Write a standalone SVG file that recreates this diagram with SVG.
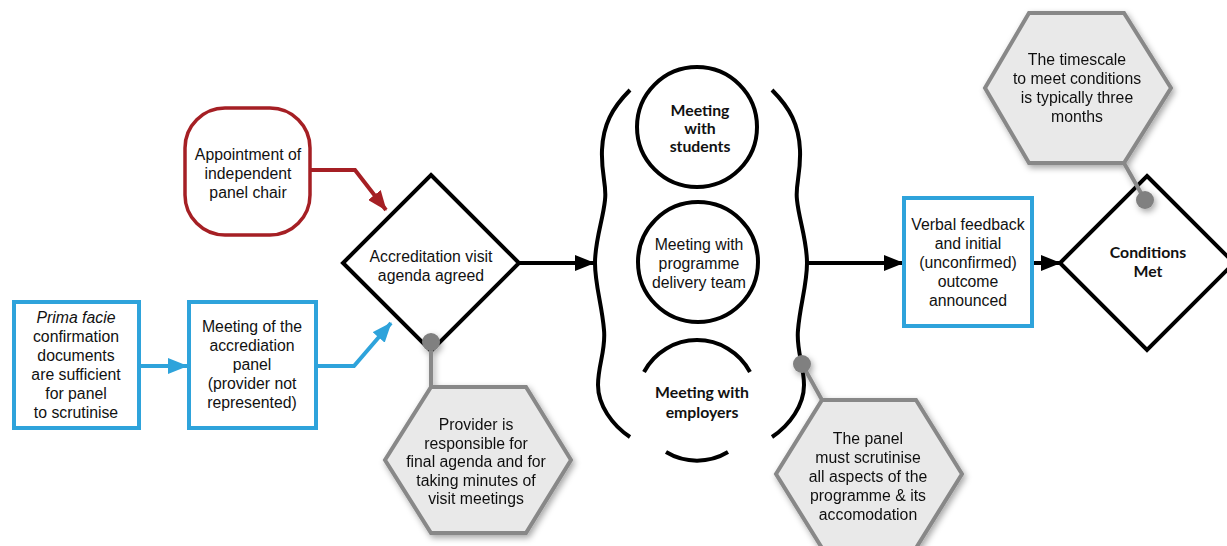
<svg xmlns="http://www.w3.org/2000/svg" width="1227" height="546" viewBox="0 0 1227 546">
<defs>
<style>
text{font-family:"Liberation Sans",Arial,sans-serif;font-size:15.8px;fill:#111;text-anchor:middle}
.b{font-family:Lato,"Open Sans",sans-serif;font-weight:700}
.blue{fill:#fff;stroke:#2ea3db;stroke-width:4}
.red{fill:#fff;stroke:#a51f24;stroke-width:3.5}
.dia{fill:#fff;stroke:#000;stroke-width:4;stroke-linejoin:miter}
.circ{fill:#fff;stroke:#000;stroke-width:4}
.hex{fill:#e9e9e9;stroke:#888;stroke-width:4;stroke-linejoin:miter}
.gl{fill:none;stroke:#888;stroke-width:4}
.dot{fill:#808080}
.k{fill:none;stroke:#000;stroke-width:4}
.bl{fill:none;stroke:#2ea3db;stroke-width:4}
.rd{fill:none;stroke:#a51f24;stroke-width:4}
</style>
<filter id="sh" x="-20%" y="-20%" width="150%" height="150%">
<feDropShadow dx="2" dy="3" stdDeviation="3" flood-color="#000" flood-opacity="0.35"/>
</filter>
<marker id="ak" markerUnits="userSpaceOnUse" markerWidth="20" markerHeight="16" refX="19" refY="8" orient="auto"><path d="M0,0 L20,8 L0,16 z" fill="#000"/></marker>
<marker id="ab" markerUnits="userSpaceOnUse" markerWidth="20" markerHeight="16" refX="19" refY="8" orient="auto"><path d="M0,0 L20,8 L0,16 z" fill="#2ea3db"/></marker>
<marker id="ar" markerUnits="userSpaceOnUse" markerWidth="20" markerHeight="16" refX="19" refY="8" orient="auto"><path d="M0,0 L20,8 L0,16 z" fill="#a51f24"/></marker>
</defs>
<rect width="1227" height="546" fill="#fff"/>

<g id="connectors">
<path class="rd" d="M310,170 L355,170 L386,210" marker-end="url(#ar)"/>
<path class="bl" d="M139,366 L187,366" marker-end="url(#ab)"/>
<path class="bl" d="M316,366 L354,366 L391,323" marker-end="url(#ab)"/>
<path class="k" d="M519,263 L594,263" marker-end="url(#ak)"/>
<path class="k" d="M807,263 L903,263" marker-end="url(#ak)"/>
<path class="k" d="M1032,263 L1060,263" marker-end="url(#ak)"/>
</g>

<g id="prima-facie">
<rect class="blue" x="14" y="302" width="125" height="126"/>
<text x="76" y="323" font-style="italic">Prima facie</text>
<text x="76" y="342">confirmation</text>
<text x="76" y="361">documents</text>
<text x="76" y="380">are sufficient</text>
<text x="76" y="399">for panel</text>
<text x="76" y="418">to scrutinise</text>
</g>

<g id="meeting-panel">
<rect class="blue" x="189" y="302" width="127" height="126"/>
<text x="252" y="332">Meeting of the</text>
<text x="252" y="351">accrediation</text>
<text x="252" y="370">panel</text>
<text x="252" y="389">(provider not</text>
<text x="252" y="408">represented)</text>
</g>

<g id="panel-chair">
<rect class="red" x="185" y="108" width="125" height="127" rx="40" ry="40"/>
<text x="248" y="160">Appointment of</text>
<text x="248" y="179">independent</text>
<text x="248" y="198">panel chair</text>
</g>

<g id="agenda-agreed">
<path class="dia" d="M431,175 L519,263 L431,351 L343,263 Z"/>
<text x="431" y="262">Accreditation visit</text>
<text x="431" y="281">agenda agreed</text>
</g>

<g id="provider-note" filter="url(#sh)">
<path class="gl" d="M431,342 L431,387"/>
<circle class="dot" cx="431" cy="342" r="9"/>
<path class="hex" d="M431,387 L526,387 L571,460 L526,533 L431,533 L385,460 Z"/>
<text x="476" y="430">Provider is</text>
<text x="476" y="448.5">responsible for</text>
<text x="476" y="467">final agenda and for</text>
<text x="476" y="485.5">taking minutes of</text>
<text x="476" y="504">visit meetings</text>
</g>

<g id="visit-meetings">
<path class="k" d="M630,90 C612,108 603,125 602,150 C601,175 607,185 605,200 C603,220 595,240 595,263 C595,285 602,305 604,330 C606,350 598,365 598,385 C598,405 612,425 630,437"/>
<path class="k" d="M772,90 C790,108 799,125 800,150 C801,175 795,185 797,200 C799,220 807,240 807,263 C807,285 800,305 798,330 C796,350 804,365 804,385 C804,405 790,425 772,437"/>
</g>

<g id="meeting-students">
<circle class="circ" cx="697" cy="127" r="60"/>
<text class="b" x="700" y="116" font-size="13">Meeting</text>
<text class="b" x="700" y="134" font-size="13">with</text>
<text class="b" x="700" y="152" font-size="13">students</text>
</g>

<g id="meeting-team">
<circle class="circ" cx="698" cy="262" r="60"/>
<text x="699" y="250">Meeting with</text>
<text x="699" y="269">programme</text>
<text x="699" y="288">delivery team</text>
</g>

<g id="meeting-employers">
<path class="k" d="M644,372 A60,60 0 0 1 750,372"/>
<path class="k" stroke-width="5" d="M666,452 A60,60 0 0 0 728,452"/>
<text class="b" x="702" y="398" font-size="15">Meeting with</text>
<text class="b" x="702" y="418" font-size="15">employers</text>
</g>

<g id="panel-note" filter="url(#sh)">
<path class="gl" d="M802,364 L822,400"/>
<circle class="dot" cx="802" cy="364" r="9"/>
<path class="hex" d="M822,400 L916,400 L962,474 L916,548 L822,548 L776,474 Z"/>
<text x="868" y="444">The panel</text>
<text x="868" y="463">must scrutinise</text>
<text x="868" y="482">all aspects of the</text>
<text x="868" y="501">programme &amp; its</text>
<text x="868" y="520">accomodation</text>
</g>

<g id="verbal-feedback">
<rect class="blue" x="904" y="198" width="128" height="128"/>
<text x="968" y="230">Verbal feedback</text>
<text x="968" y="249">and initial</text>
<text x="968" y="268">(unconfirmed)</text>
<text x="968" y="287">outcome</text>
<text x="968" y="306">announced</text>
</g>

<g id="conditions-met">
<path class="dia" d="M1147,176 L1234,263 L1147,350 L1060,263 Z"/>
<text class="b" x="1148" y="258" font-size="13.5">Conditions</text>
<text class="b" x="1148" y="277" font-size="13.5">Met</text>
</g>

<g id="timescale-note" filter="url(#sh)">
<path class="gl" d="M1145,200 L1124,163"/>
<circle class="dot" cx="1145" cy="200" r="9"/>
<path class="hex" d="M1029,13 L1124,13 L1171,88 L1124,163 L1029,163 L985,88 Z"/>
<text x="1077" y="65">The timescale</text>
<text x="1077" y="84">to meet conditions</text>
<text x="1077" y="103">is typically three</text>
<text x="1077" y="122">months</text>
</g>
</svg>
